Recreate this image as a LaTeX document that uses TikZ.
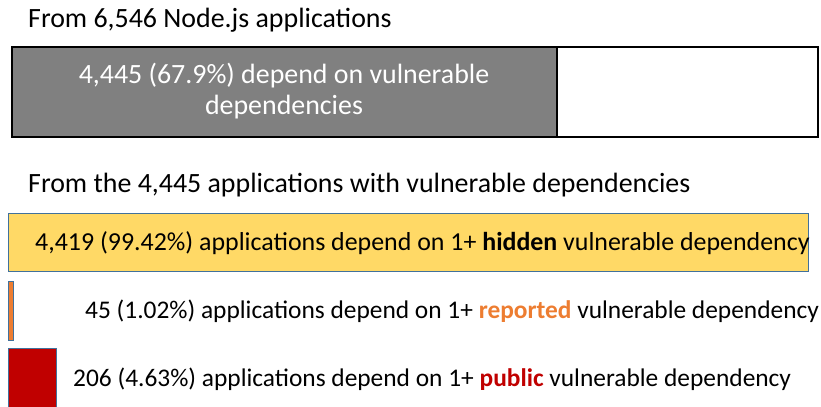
\documentclass[tikz,border=0pt]{standalone}
\usepackage{fontspec}
\setmainfont{Carlito}
\definecolor{barGray}{HTML}{808080}
\definecolor{barGold}{HTML}{FFD966}
\definecolor{barOrange}{HTML}{ED7D31}
\definecolor{barRed}{HTML}{C00000}
\definecolor{barEdge}{HTML}{41719C}
\begin{document}
\begin{tikzpicture}[x=1bp,y=-1bp,
  heading/.style={anchor=west, inner sep=0pt, font=\fontsize{28}{32}\selectfont},
  label/.style={anchor=west, inner sep=0pt, font=\fontsize{25.5}{30}\selectfont},
  frame/.style={draw=black, line width=1.2bp},
  bar/.style={draw=barEdge, line width=1bp}]
\useasboundingbox (0,0) rectangle (821,406);
% overall population
\node[heading] (h1) at (28,20) {From 6,546 Node.js applications};
\draw[frame] (12,47) rectangle (818,137);
\filldraw[frame, fill=barGray] (12,47) rectangle (557,137);
\node[align=center, text=white, inner sep=0pt, font=\fontsize{28}{32}\selectfont] (vuln) at (284,91)
  {4,445 (67.9\%) depend on vulnerable\\dependencies};
% breakdown of vulnerable applications
\node[heading] (h2) at (28,185) {From the 4,445 applications with vulnerable dependencies};
\filldraw[bar, fill=barGold] (8,213) rectangle (808,271);
\node[label, font=\fontsize{26}{30}\selectfont] (hidden) at (35,243) {4,419 (99.42\%) applications depend on 1+ \textbf{hidden} vulnerable dependency};
\filldraw[bar, fill=barOrange] (8,281) rectangle (13,340);
\node[label] (reported) at (85,311) {45 (1.02\%) applications depend on 1+ \textbf{\textcolor{barOrange}{reported}} vulnerable dependency};
\filldraw[bar, fill=barRed] (8,348) rectangle (56,408);
\node[label] (public) at (73,379) {206 (4.63\%) applications depend on 1+ \textbf{\textcolor{barRed}{public}} vulnerable dependency};
\end{tikzpicture}
\end{document}
